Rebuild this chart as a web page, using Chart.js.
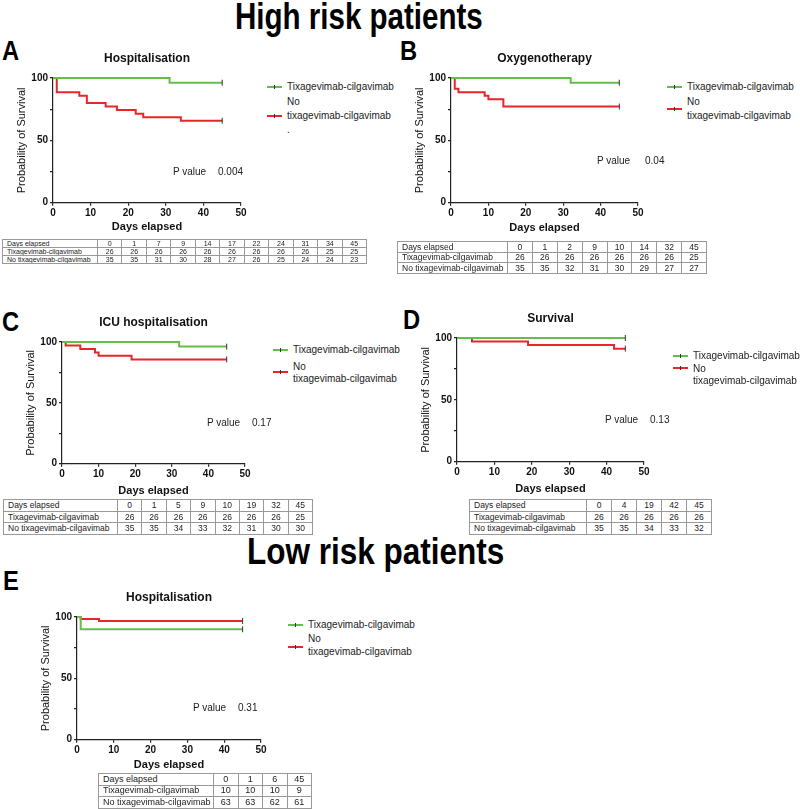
<!DOCTYPE html>
<html>
<head>
<meta charset="utf-8">
<script src="https://cdn.jsdelivr.net/npm/chart.js@4.4.1/dist/chart.umd.min.js"></script>
<style>
  body { margin: 0; background: #fff; }
  #page { position: relative; width: 800px; height: 809px; overflow: hidden; font-family: 'Liberation Sans', Arial, sans-serif; color: #111; }
  canvas { position: absolute; }
  .head { position: absolute; font-weight: bold; font-size: 36px; line-height: 36px; white-space: nowrap; transform: scaleX(0.82); transform-origin: left top; color: #000; }
  .letter { position: absolute; font-weight: bold; font-size: 27px; line-height: 27px; transform: scaleX(0.88); transform-origin: left top; color: #000; }
  .txt { position: absolute; font-size: 10px; line-height: 12px; white-space: nowrap; color: #222; }
  .sw { position: absolute; height: 2px; width: 15px; }
  .sw i { position: absolute; left: 7px; top: -1px; width: 1px; height: 4px; background: #333; }
  table.risk { position: absolute; border-collapse: collapse; table-layout: fixed; color: #222; }
  table.risk td { border: 1px solid #999; padding: 0; line-height: 1; text-align: center; white-space: nowrap; overflow: hidden; }
  table.risk td:first-child { text-align: left; padding-left: 4px; }
</style>
</head>
<body>
<div id="page">
  <div class="head" style="left:235px; top:-1px;">High risk patients</div>
  <div class="head" style="left:247px; top:534px; transform: scaleX(0.875);">Low risk patients</div>
  <div class="letter" style="left:2px; top:38px;">A</div>
  <div class="letter" style="left:400px; top:38px;">B</div>
  <div class="letter" style="left:2px; top:309px;">C</div>
  <div class="letter" style="left:403px; top:307px;">D</div>
  <div class="letter" style="left:3px; top:568px;">E</div>
</div>
<script>
// colours
var GREEN = '#65be48';
var RED = '#e8252b';

// survival curves (day of step, % surviving)
var tixA_t = [0, 31, 45];
var tixA_s = [100, 96.2, 96.2];
var noA_t = [0, 1, 7, 9, 14, 17, 22, 24, 34, 45];
var noA_s = [100, 88.6, 85.7, 80.0, 77.1, 74.3, 71.4, 68.6, 65.7, 65.7];

var tixB_t = [0, 32, 45];
var tixB_s = [100, 96.2, 96.2];
var noB_t = [0, 1, 2, 9, 10, 14, 45];
var noB_s = [100, 91.4, 88.6, 85.7, 82.9, 77.1, 77.1];

var tixC_t = [0, 32, 45];
var tixC_s = [100, 96.2, 96.2];
var noC_t = [0, 1, 5, 9, 10, 19, 45];
var noC_s = [100, 97.1, 94.3, 91.4, 88.6, 85.7, 85.7];

var tixD_t = [0, 45];
var tixD_s = [100, 100];
var noD_t = [0, 4, 19, 42, 45];
var noD_s = [100, 97.1, 94.3, 91.4, 91.4];

var tixE_t = [0, 1, 45];
var tixE_s = [100, 90, 90];
var noE_t = [0, 1, 6, 45];
var noE_s = [100, 98.4, 96.8, 96.8];

// numbers at risk tables
var rowLabels = ['Days elapsed', 'Tixagevimab-cilgavimab', 'No tixagevimab-cilgavimab'];
var tabA_days = [0, 1, 7, 9, 14, 17, 22, 24, 31, 34, 45];
var tabA_tix = [26, 26, 26, 26, 26, 26, 26, 26, 26, 25, 25];
var tabA_no = [35, 35, 31, 30, 28, 27, 26, 25, 24, 24, 23];
var tabB_days = [0, 1, 2, 9, 10, 14, 32, 45];
var tabB_tix = [26, 26, 26, 26, 26, 26, 26, 25];
var tabB_no = [35, 35, 32, 31, 30, 29, 27, 27];
var tabC_days = [0, 1, 5, 9, 10, 19, 32, 45];
var tabC_tix = [26, 26, 26, 26, 26, 26, 26, 25];
var tabC_no = [35, 35, 34, 33, 32, 31, 30, 30];
var tabD_days = [0, 4, 19, 42, 45];
var tabD_tix = [26, 26, 26, 26, 26];
var tabD_no = [35, 35, 34, 33, 32];
var tabE_days = [0, 1, 6, 45];
var tabE_tix = [10, 10, 10, 9];
var tabE_no = [63, 63, 62, 61];

var xTicks = [0, 10, 20, 30, 40, 50];
var yTicks = [0, 25, 50, 75, 100];

var page = document.getElementById('page');
var FONT = "'Liberation Sans', Arial, sans-serif";

function km(t, s) {
  return t.map(function (x, i) { return { x: x, y: s[i] }; });
}

function curve(label, t, s, col) {
  return {
    label: label,
    data: km(t, s),
    borderColor: col,
    borderWidth: 2,
    stepped: 'before',
    fill: false,
    clip: false,
    pointStyle: 'line',
    rotation: 90,
    pointBorderColor: '#333',
    pointBorderWidth: 1,
    pointRadius: function (ctx) { return ctx.dataIndex === t.length - 1 ? 3 : 0; }
  };
}

function addText(str, x, y, extra) {
  var d = document.createElement('div');
  d.className = 'txt';
  d.textContent = str;
  d.style.left = x + 'px';
  d.style.top = (y - 6) + 'px';
  if (extra) d.style.cssText += extra;
  page.appendChild(d);
}

function addSwatch(col, x, y) {
  var d = document.createElement('div');
  d.className = 'sw';
  d.style.background = col;
  d.style.left = x + 'px';
  d.style.top = (y - 1) + 'px';
  d.appendChild(document.createElement('i'));
  page.appendChild(d);
}

// p: axis x, plot top, plot bottom, x of day 50, x-title offset
function panel(p) {
  var W = p.x50 - p.ax, H = p.bottom - p.top;
  var xH = p.xt + 6.3;
  var c = document.createElement('canvas');
  c.width = 40 + W + 15;
  c.height = 30 + H + xH;
  c.style.left = (p.ax - 40) + 'px';
  c.style.top = (p.top - 30) + 'px';
  page.appendChild(c);

  new Chart(c, {
    type: 'line',
    data: { datasets: [curve('Tixagevimab-cilgavimab', p.tt, p.ts, GREEN), curve('No tixagevimab-cilgavimab', p.nt, p.ns, RED)] },
    options: {
      animation: false,
      responsive: false,
      devicePixelRatio: 1,
      layout: { padding: { left: 0, right: 15, top: 0, bottom: 0 } },
      plugins: {
        legend: { display: false },
        tooltip: { enabled: false },
        title: {
          display: true, text: p.title, fullSize: false, color: '#111',
          font: { family: FONT, size: 12, weight: 'bold' },
          padding: { top: 3, bottom: 12.6 }
        }
      },
      scales: {
        x: {
          type: 'linear', min: 0, max: 50,
          afterBuildTicks: function (s) { s.ticks = xTicks.map(function (v) { return { value: v }; }); },
          ticks: { color: '#111', padding: 2, maxRotation: 0, font: { family: FONT, size: 10, weight: 'bold' } },
          grid: { drawOnChartArea: false, tickLength: 3, color: '#222', lineWidth: 1.2 },
          border: { color: '#222', width: 1.2 },
          title: { display: true, text: 'Days elapsed', color: '#111', padding: 0, font: { family: FONT, size: 11, weight: 'bold' } },
          afterFit: function (s) { s.height = xH; }
        },
        y: {
          min: 0, max: 100,
          afterBuildTicks: function (s) { s.ticks = yTicks.map(function (v) { return { value: v }; }); },
          ticks: {
            color: '#111', padding: 2, font: { family: FONT, size: 10, weight: 'bold' },
            callback: function (v) { return v % 50 === 0 ? v : ''; }
          },
          grid: { drawOnChartArea: false, tickLength: 3, color: '#222', lineWidth: 1.2 },
          border: { color: '#222', width: 1.2 },
          title: { display: true, text: 'Probability of Survival', color: '#111', padding: { top: 2.4 }, font: { family: FONT, size: 11 } },
          afterFit: function (s) { s.width = 40; }
        }
      }
    }
  });

  // legend
  addSwatch(GREEN, p.lx, p.ly[0]);
  addText('Tixagevimab-cilgavimab', p.lx + 20, p.ly[0]);
  addText('No', p.lx + 20, p.ly[1]);
  addText('tixagevimab-cilgavimab', p.lx + 20, p.ly[2]);
  addSwatch(RED, p.lx, p.ly[3]);
  if (p.dot) addText('.', p.lx + 20, p.ly[2] + 14);
  // p value
  addText('P value', p.px, p.py);
  addText(p.pv, p.px2, p.py);
}

function table(days, tix, no, t) {
  var tb = document.createElement('table');
  tb.className = 'risk';
  tb.style.left = t.left + 'px';
  tb.style.top = t.top + 'px';
  tb.style.width = t.width + 'px';
  tb.style.fontSize = t.fs + 'px';
  var cg = document.createElement('colgroup');
  var c0 = document.createElement('col');
  c0.style.width = t.first + 'px';
  cg.appendChild(c0);
  days.forEach(function () { cg.appendChild(document.createElement('col')); });
  tb.appendChild(cg);
  [days, tix, no].forEach(function (row, r) {
    var tr = document.createElement('tr');
    tr.style.height = t.rh + 'px';
    var td = document.createElement('td');
    td.textContent = rowLabels[r];
    tr.appendChild(td);
    row.forEach(function (v) {
      var d = document.createElement('td');
      d.textContent = v;
      tr.appendChild(d);
    });
    tb.appendChild(tr);
  });
  page.appendChild(tb);
}

panel({ title: 'Hospitalisation', ax: 53, top: 78, bottom: 203, x50: 241, xt: 25,
  tt: tixA_t, ts: tixA_s, nt: noA_t, ns: noA_s,
  lx: 267, ly: [87, 102, 116, 116], dot: true, px: 173, px2: 218, py: 172, pv: '0.004' });
panel({ title: 'Oxygenotherapy', ax: 451, top: 78, bottom: 203, x50: 638, xt: 26,
  tt: tixB_t, ts: tixB_s, nt: noB_t, ns: noB_s,
  lx: 667, ly: [87, 102, 116, 109], px: 597, px2: 645, py: 161, pv: '0.04' });
panel({ title: 'ICU hospitalisation', ax: 62, top: 342, bottom: 464, x50: 245, xt: 28,
  tt: tixC_t, ts: tixC_s, nt: noC_t, ns: noC_s,
  lx: 273, ly: [350, 367, 379, 372], px: 207, px2: 252, py: 423, pv: '0.17' });
panel({ title: 'Survival', ax: 457, top: 338, bottom: 462, x50: 644, xt: 28,
  tt: tixD_t, ts: tixD_s, nt: noD_t, ns: noD_s,
  lx: 673, ly: [356, 369, 381, 368], px: 605, px2: 650, py: 420, pv: '0.13' });
panel({ title: 'Hospitalisation', ax: 77, top: 617, bottom: 740, x50: 261, xt: 26,
  tt: tixE_t, ts: tixE_s, nt: noE_t, ns: noE_s,
  lx: 288, ly: [625, 639, 652, 647], px: 193, px2: 238, py: 708, pv: '0.31' });

table(tabA_days, tabA_tix, tabA_no, { left: 2, top: 239, width: 365, first: 95, rh: 7.5, fs: 7 });
table(tabB_days, tabB_tix, tabB_no, { left: 397, top: 241, width: 310, first: 110, rh: 10.5, fs: 8.5 });
table(tabC_days, tabC_tix, tabC_no, { left: 3, top: 499, width: 310, first: 114, rh: 11.5, fs: 8.5 });
table(tabD_days, tabD_tix, tabD_no, { left: 469, top: 499, width: 243, first: 117, rh: 11.5, fs: 8.5 });
table(tabE_days, tabE_tix, tabE_no, { left: 98, top: 773, width: 214, first: 115, rh: 11.5, fs: 9 });
</script>
</body>
</html>
